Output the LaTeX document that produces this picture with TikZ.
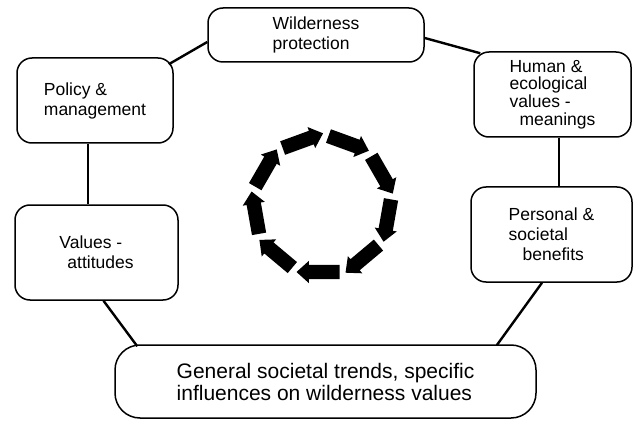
\documentclass[tikz,border=0pt]{standalone}
\usepackage{fontspec}
\setmainfont{Liberation Sans}
\usetikzlibrary{shapes.arrows}

\tikzset{
	stage/.style={draw, line width=1.5pt, rounded corners=15pt, align=left, inner sep=0pt, font=\fontsize{17.5}{20}\selectfont},
	link/.style={line width=2.4pt},
	turn/.style={single arrow, fill=black, inner sep=7pt, minimum height=43pt, single arrow head extend=4pt, single arrow tip angle=84, single arrow head indent=0pt}
}

\begin{document}
\begin{tikzpicture}[x=1pt, y=-1pt]
	\useasboundingbox (0,0) rectangle (634,422);

	\node[stage, minimum width=216pt, minimum height=54pt] (wild) at (316,35) {Wilderness\\protection};
	\node[stage, minimum width=156pt, minimum height=85pt] (policy) at (95,100.5) {Policy \&\\management};
	\node[stage, minimum width=157pt, minimum height=85pt, font=\fontsize{17.5}{17.8}\selectfont] (human) at (552.5,94.5) {Human \&\\ecological\\values -\\\hspace*{10pt}meanings};
	\node[stage, minimum width=161pt, minimum height=95pt] (personal) at (551.5,234.5) {Personal \&\\societal\\\hspace*{14pt}benefits};
	\node[stage, minimum width=163pt, minimum height=95pt] (values) at (96.5,252.5) {Values -\\\hspace*{8pt}attitudes};
	\node[stage, minimum width=421pt, minimum height=73pt, rounded corners=25pt, font=\fontsize{21}{22}\selectfont] (general) at (325.5,381.5) {General societal trends, specific\\influences on wilderness values};

	\draw[link] ([shift={(-5,7)}]policy.north east) -- ([shift={(0,7)}]wild.west);
	\draw[link] ([shift={(0,3)}]wild.east) -- ([shift={(7,2)}]human.north west);
	\draw[link] ([xshift=6.5pt]human.south) -- ([xshift=6.5pt]human.south |- personal.north);
	\draw[link] ([xshift=-7pt]policy.south) -- ([xshift=-7pt]policy.south |- values.north);
	\draw[link] ([xshift=7pt]values.south) -- ([shift={(23,2)}]general.north west);
	\draw[link] ([xshift=-9.5pt]personal.south) -- ([shift={(-40,1)}]general.north east);

	\coordinate (ctr) at (322,205);
	\foreach \b in {90,50,...,-230}
		\node[turn, rotate={-90-\b}] at ([shift={(\b:67)}]ctr) {};

\end{tikzpicture}
\end{document}
